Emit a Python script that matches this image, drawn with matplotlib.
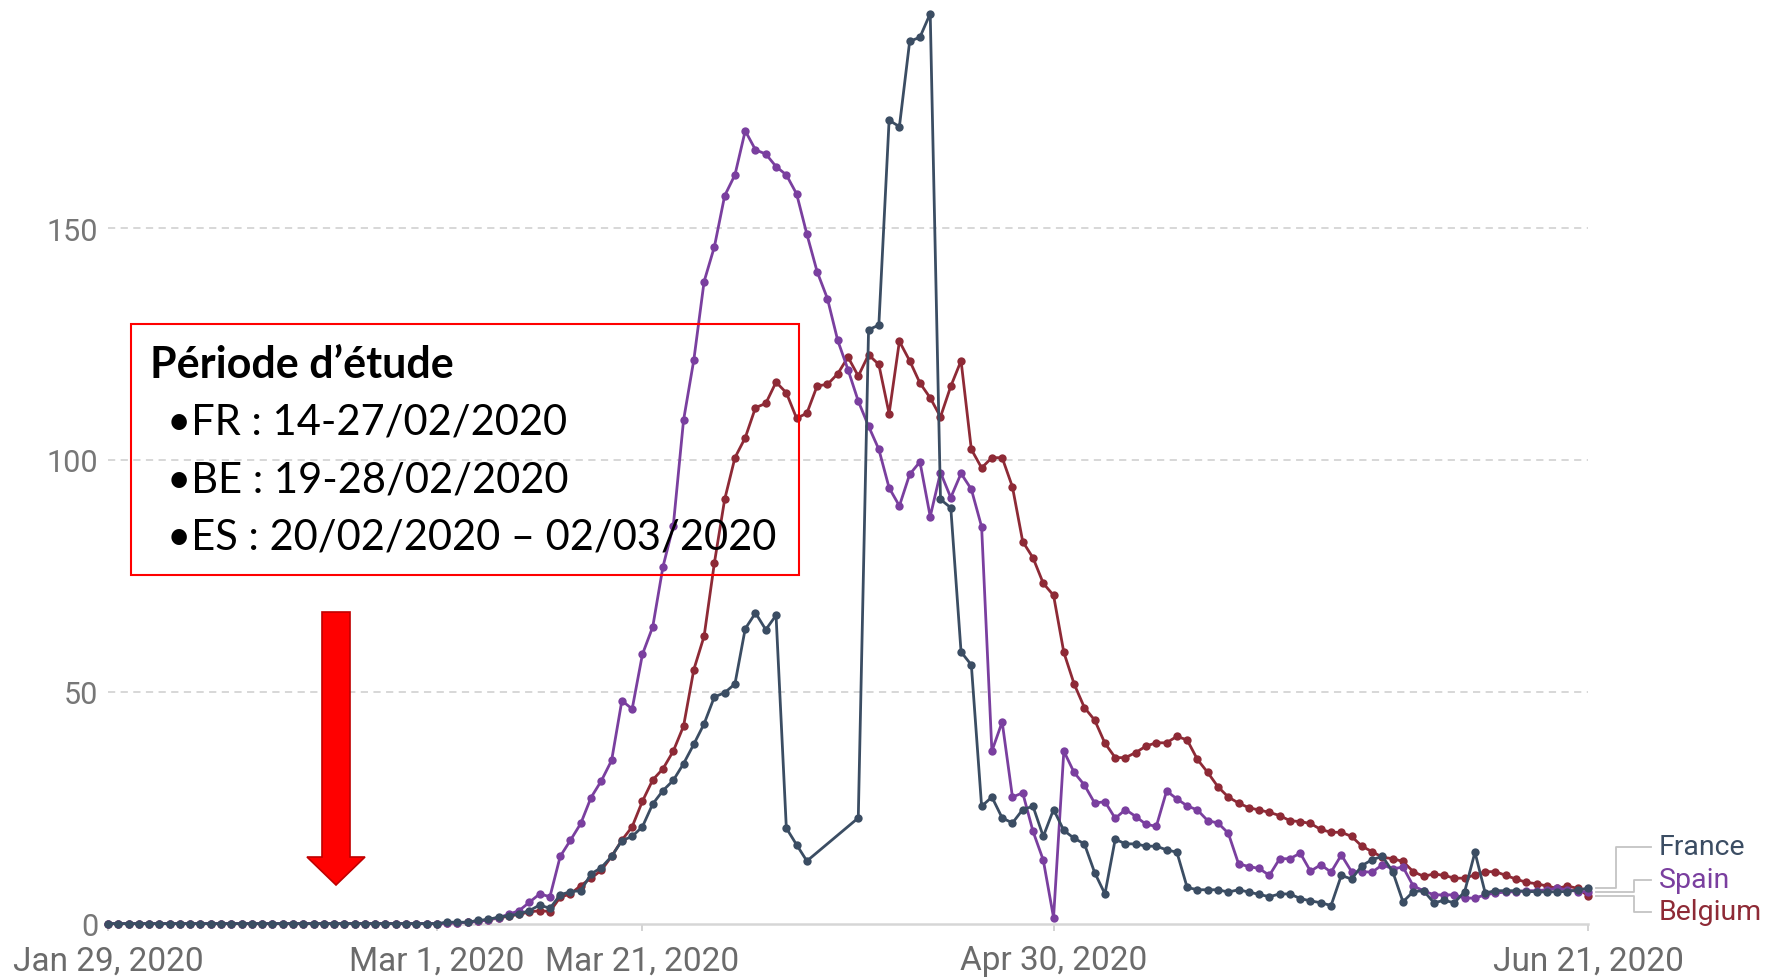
import matplotlib
matplotlib.use("Agg")
import matplotlib.pyplot as plt
import numpy as np
import pandas as pd
from matplotlib.patches import Polygon, Rectangle
from matplotlib.lines import Line2D

# ---------------- data ----------------
start_date = "2020-01-29"
end_date = "2020-06-21"

zeros = [0.0] * 33  # Jan 29 .. Mar 1

france = zeros + [
    0.3, 0.3, 0.3, 0.7, 0.9, 1.4, 1.7, 2.1, 2.8, 4.0,
    3.3, 6.2, 6.9, 7.1, 10.7, 12.1, 14.5, 17.9, 18.8, 20.9,
    25.8, 28.7, 30.9, 34.5, 38.7, 43.1, 48.9, 49.8, 51.7, 63.6,
    67.0, 63.4, 66.5, 20.6, 17.0, 13.5, None, None, None, None,
    22.8, 128.1, 129.1, 173.3, 171.9, 190.3, 191.2, 196.3, 91.5, 89.7,
    58.6, 55.8, 25.3, 27.3, 22.8, 21.7, 24.6, 25.3, 18.8, 24.6,
    20.1, 18.4, 17.2, 11.0, 6.4, 18.2, 17.2, 17.2, 16.7, 16.7,
    15.9, 15.4, 7.8, 7.3, 7.3, 7.3, 6.8, 7.3, 6.8, 6.3,
    5.8, 6.4, 6.4, 5.4, 4.9, 4.5, 3.9, 10.4, 9.6, 12.5,
    13.8, 14.5, 11.2, 4.7, 6.9, 7.1, 4.5, 5.0, 4.5, 6.9,
    15.4, 6.6, 7.1, 7.1, 7.1, 6.9, 6.9, 6.8, 6.9, 6.9,
    7.3, 7.6,
]

spain = zeros + [
    0.1, 0.2, 0.3, 0.5, 0.8, 1.3, 2.0, 2.8, 4.6, 6.4,
    5.8, 14.5, 18.0, 21.6, 27.2, 30.8, 35.2, 48.1, 46.3, 58.1,
    64.0, 77.0, 85.8, 108.6, 121.6, 138.5, 146.0, 157.0, 161.5, 171.0,
    166.9, 166.0, 163.3, 161.5, 157.4, 148.7, 140.6, 134.8, 125.8, 119.5,
    112.7, 107.3, 102.3, 94.0, 90.1, 96.9, 99.6, 87.8, 97.3, 91.9,
    97.1, 93.7, 85.6, 37.2, 43.5, 27.3, 28.2, 19.9, 13.7, 1.3,
    37.2, 32.6, 29.9, 26.0, 26.3, 22.7, 24.6, 23.1, 21.4, 21.0,
    28.6, 26.9, 25.4, 24.5, 22.2, 21.7, 19.5, 12.9, 12.3, 11.9,
    10.4, 14.0, 14.0, 15.2, 11.3, 12.7, 11.1, 14.8, 11.2, 11.2,
    11.1, 12.7, 11.8, 12.2, 8.1, 7.1, 6.2, 6.2, 6.2, 5.5,
    5.5, 6.2, 6.6, 6.8, 6.9, 7.1, 7.1, 7.3, 7.6, 7.3,
    6.9, 6.9,
]

belgium = zeros + [
    0.1, 0.2, 0.3, 0.5, 0.8, 1.2, 1.6, 2.0, 2.5, 2.8,
    2.6, 5.7, 6.4, 8.2, 9.8, 11.5, 14.5, 18.0, 20.9, 26.4,
    31.0, 33.4, 37.2, 42.6, 54.8, 62.0, 77.8, 91.5, 100.5, 104.8,
    111.3, 112.2, 116.8, 114.5, 109.0, 110.1, 116.0, 116.3, 118.6, 122.2,
    118.1, 122.7, 120.6, 110.0, 125.6, 121.4, 116.6, 113.4, 109.3, 115.9,
    121.4, 102.3, 98.3, 100.5, 100.5, 94.2, 82.4, 78.9, 73.4, 70.8,
    58.5, 51.7, 46.6, 43.9, 38.9, 35.8, 35.8, 36.9, 38.3, 39.0,
    39.0, 40.4, 39.6, 35.4, 32.6, 29.5, 27.3, 26.0, 25.0, 24.5,
    24.0, 23.3, 22.2, 22.0, 21.6, 20.3, 19.7, 19.7, 18.8, 16.7,
    15.5, 14.3, 14.0, 13.4, 11.2, 10.2, 10.7, 10.4, 9.8, 9.8,
    10.5, 11.2, 11.2, 10.4, 9.6, 8.9, 8.6, 8.1, 7.6, 8.1,
    7.6, 6.0,
]

series_names = ["Belgium", "Spain", "France"]  # drawing order (France on top)
series_values = {"France": france, "Spain": spain, "Belgium": belgium}
series_colors = {"France": "#3b4d63", "Spain": "#7a3f9f", "Belgium": "#8e2a36"}

tick_dates = ["2020-01-29", "2020-03-01", "2020-03-21", "2020-04-30", "2020-06-21"]
tick_labels = ["Jan 29, 2020", "Mar 1, 2020", "Mar 21, 2020", "Apr 30, 2020", "Jun 21, 2020"]
y_ticks = [0, 50, 100, 150]
y_labels = ["0", "50", "100", "150"]

box_title = "Période d’étude"
box_lines = ["•FR : 14-27/02/2020", "•BE : 19-28/02/2020", "•ES : 20/02/2020 – 02/03/2020"]

# ---------------- figure ----------------
W, H = 1770, 978
fig = plt.figure(figsize=(W / 100, H / 100), dpi=100)
fig.patch.set_facecolor("white")

ax_left, ax_right, ax_bottom_px = 108, 1588, 924.6
ax = fig.add_axes([ax_left / W, (H - ax_bottom_px) / H, (ax_right - ax_left) / W, ax_bottom_px / H])

dates = pd.date_range(start_date, end_date, freq="D")

for name in series_names:
    s = pd.Series(series_values[name], index=dates, dtype=float).dropna()
    ax.plot(s.index, s.values, color=series_colors[name], lw=2.0, marker="o",
            markersize=6.0, markeredgewidth=0, clip_on=False, zorder=3)

ax.set_xlim(dates[0], dates[-1])
ax.set_ylim(0, ax_bottom_px / 4.636)

ax.set_xticks(pd.to_datetime(tick_dates))
ax.set_xticklabels(tick_labels)
ax.set_yticks(y_ticks)
ax.set_yticklabels(y_labels)

ax.tick_params(axis="x", length=5, width=1.2, color="#cccccc", pad=10,
               labelsize=24, labelcolor="#6b6b6b")
ax.tick_params(axis="y", length=0, pad=7, labelsize=22, labelcolor="#777777")
for lab in ax.get_xticklabels() + ax.get_yticklabels():
    lab.set_fontfamily("Roboto")

for sp in ["top", "right", "left"]:
    ax.spines[sp].set_visible(False)
ax.spines["bottom"].set_color("#d6d6d6")
ax.spines["bottom"].set_linewidth(1.8)
ax.spines["bottom"].set_zorder(2)

for yv in y_ticks[1:]:
    ax.axhline(yv, color="#d4d4d4", lw=1.3, ls=(0, (4, 3)), zorder=1)

# ---------------- end labels with connectors ----------------
label_y_px = {"France": 848, "Spain": 881, "Belgium": 913}
elbow_x = {"France": 1616, "Spain": 1634, "Belgium": 1634}
fig.canvas.draw()
for name in ["France", "Spain", "Belgium"]:
    vals = [v for v in series_values[name] if v is not None]
    x0, y0 = ax.transData.transform((matplotlib.dates.date2num(dates[-1]), vals[-1]))
    y0_top = H - y0
    xs = [x0 + 8, elbow_x[name], elbow_x[name], 1651]
    ys = [y0_top, y0_top, label_y_px[name], label_y_px[name]]
    fig.add_artist(Line2D([x / W for x in xs], [1 - y / H for y in ys],
                          transform=fig.transFigure, color="#c4c4c4", lw=1.3))
    fig.text(1659 / W, 1 - label_y_px[name] / H, name, color=series_colors[name],
             fontsize=20.5, family="Roboto", va="center", ha="left")

# ---------------- annotation box ----------------
bx0, by0, bx1, by1 = 131, 325, 799, 576
fig.add_artist(Rectangle((bx0 / W, 1 - by1 / H), (bx1 - bx0) / W, (by1 - by0) / H,
                         transform=fig.transFigure, fill=False,
                         edgecolor="#ff0000", lw=1.5, zorder=5))
fig.text(150 / W, 1 - 365 / H, box_title, fontsize=31, fontweight="bold",
         family="Lato", va="center", ha="left", color="black", zorder=6)
for i, line in enumerate(box_lines):
    fig.text(167 / W, 1 - (423 + 57.5 * i) / H, line, fontsize=30,
             family="Lato", va="center", ha="left", color="black", zorder=6)

# ---------------- red arrow ----------------
arrow_px = [(322, 613), (350, 613), (350, 858), (365, 858), (336, 886), (307, 858), (322, 858)]
fig.add_artist(Polygon([(x / W, 1 - y / H) for x, y in arrow_px], closed=True,
                       transform=fig.transFigure, facecolor="#ff0000",
                       edgecolor="#c00000", lw=1.2, zorder=6))

fig.savefig("out.png", dpi=100)
